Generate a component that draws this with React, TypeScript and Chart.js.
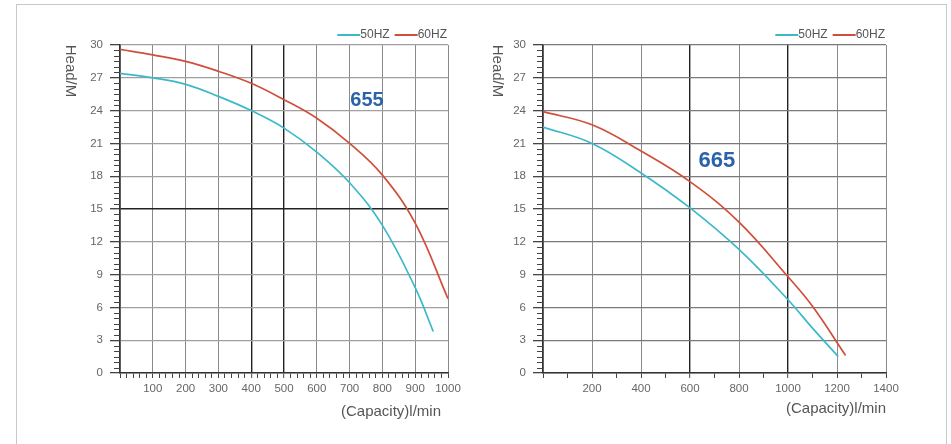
import React, { useEffect, useRef } from "react";
import { Chart, registerables } from "chart.js";

Chart.register(...registerables);

// ---- Data: model 655 ----
const cap50A = [0, 100, 200, 300, 400, 500, 600, 700, 800, 900, 955];
const head50A = [27.4, 27.0, 26.4, 25.3, 24.0, 22.4, 20.2, 17.4, 13.5, 7.8, 3.8];
const cap60A = [0, 100, 200, 300, 400, 500, 600, 700, 800, 900, 1000];
const head60A = [29.6, 29.1, 28.5, 27.6, 26.5, 25.0, 23.3, 21.0, 18.1, 13.7, 6.8];

// ---- Data: model 665 ----
const cap50B = [0, 200, 400, 600, 800, 1000, 1100, 1205];
const head50B = [22.5, 21.0, 18.3, 15.1, 11.3, 6.7, 4.1, 1.5];
const cap60B = [0, 200, 400, 600, 800, 1000, 1100, 1235];
const head60B = [23.9, 22.7, 20.3, 17.5, 13.8, 8.8, 6.1, 1.6];

const seriesNames = ["50HZ", "60HZ"];
const yTicks = [0, 3, 6, 9, 12, 15, 18, 21, 24, 27, 30];
const modelNames = ["655", "665"];

const CYAN = "#3cb9c9";
const RED = "#cf4f3c";
const FONT = "'Liberation Sans', Arial, sans-serif";

const toPts = (xs: number[], ys: number[]) => xs.map((x, i) => ({ x, y: ys[i] }));

const decorPlugin = {
  id: "decor",
  afterDraw(chart: any, _args: any, opts: any) {
    const { ctx, chartArea } = chart;
    const { left, right, top } = chartArea;
    const y = chart.scales.y;
    const x = chart.scales.x;
    ctx.save();
    // minor y ticks
    ctx.strokeStyle = "#444";
    ctx.lineWidth = 1;
    for (let v = 0; v <= yTicks[yTicks.length - 1]; v += 0.5) {
      if (v % 3 === 0) continue;
      const py = Math.round(y.getPixelForValue(v)) + 0.5;
      ctx.beginPath();
      ctx.moveTo(left - 6, py);
      ctx.lineTo(left, py);
      ctx.stroke();
    }
    // legend
    ctx.font = `12px ${FONT}`;
    ctx.textBaseline = "middle";
    ctx.textAlign = "left";
    const ly = top - 10;
    let cx = right - 1;
    const items = [
      { name: seriesNames[1], color: RED },
      { name: seriesNames[0], color: CYAN },
    ];
    items.forEach((it, i) => {
      const w = ctx.measureText(it.name).width;
      cx -= w;
      ctx.fillStyle = "#555";
      ctx.fillText(it.name, cx, ly);
      ctx.strokeStyle = it.color;
      ctx.lineWidth = 2;
      ctx.beginPath();
      ctx.moveTo(cx - 23, ly);
      ctx.lineTo(cx, ly);
      ctx.stroke();
      cx -= 23 + (i === 0 ? 5 : 0);
    });
    // y title rotated clockwise
    ctx.fillStyle = "#555";
    ctx.font = `15px ${FONT}`;
    ctx.save();
    ctx.translate(left - opts.yTitleDx, top + 26);
    ctx.rotate(Math.PI / 2);
    ctx.textAlign = "center";
    ctx.textBaseline = "middle";
    ctx.fillText("Head/M", 0, 0);
    ctx.restore();
    // x title
    ctx.textAlign = "right";
    ctx.textBaseline = "middle";
    ctx.fillText("(Capacity)l/min", right - opts.xTitleDx, opts.xTitleY);
    // model label
    ctx.fillStyle = "#2a63a8";
    ctx.font = `bold ${opts.modelSize}px ${FONT}`;
    ctx.textAlign = "center";
    ctx.fillText(opts.model, x.getPixelForValue(opts.modelX), y.getPixelForValue(opts.modelY));
    ctx.restore();
  },
};

function makeConfig(p: any) {
  return {
    type: "line",
    data: {
      datasets: [
        {
          label: seriesNames[0],
          data: toPts(p.c50, p.h50),
          borderColor: CYAN,
          backgroundColor: CYAN,
          borderWidth: 1.7,
          pointRadius: 0,
          tension: 0.4,
        },
        {
          label: seriesNames[1],
          data: toPts(p.c60, p.h60),
          borderColor: RED,
          backgroundColor: RED,
          borderWidth: 1.7,
          pointRadius: 0,
          tension: 0.4,
        },
      ],
    },
    options: {
      responsive: false,
      animation: false,
      layout: { padding: { top: 45, right: p.padRight, left: 0, bottom: 0 } },
      plugins: {
        legend: { display: false },
        tooltip: { enabled: false },
        decor: {
          yTitleDx: p.yTitleDx,
          xTitleDx: p.xTitleDx,
          xTitleY: p.xTitleY,
          model: p.model,
          modelX: p.modelX,
          modelY: p.modelY,
          modelSize: p.modelSize,
        },
      },
      scales: {
        x: {
          type: "linear",
          min: 0,
          max: p.xMax,
          afterFit: (s: any) => {
            s.height = 71;
          },
          ticks: {
            stepSize: p.minorStep,
            autoSkip: false,
            maxRotation: 0,
            padding: 4,
            color: "#666",
            font: { family: FONT, size: 11.5 },
            callback: (v: number) => (v % p.labelStep === 0 && v > 0 ? String(v) : ""),
          },
          grid: {
            tickLength: 5,
            color: (c: any) => {
              const v = c.tick.value;
              if (v % p.gridStep !== 0) return "transparent";
              return p.darkX.includes(v) ? "#222" : "#8a8a8a";
            },
            lineWidth: (c: any) => (p.darkX.includes(c.tick.value) ? 1.4 : 1),
            tickColor: "#444",
            tickWidth: 1,
          },
          border: { color: "#333", width: 1.5 },
        },
        y: {
          type: "linear",
          min: 0,
          max: 30,
          afterFit: (s: any) => {
            s.width = p.yWidth;
          },
          afterBuildTicks: (s: any) => {
            s.ticks = yTicks.map((v) => ({ value: v }));
          },
          ticks: {
            padding: 7,
            color: "#666",
            font: { family: FONT, size: 11.5 },
          },
          grid: {
            tickLength: 10,
            color: (c: any) => (p.darkY.includes(c.tick.value) ? "#222" : p.yGridColor),
            lineWidth: (c: any) => (p.darkY.includes(c.tick.value) ? 1.4 : 1.3),
            tickColor: "#444",
          },
          border: { color: "#333", width: 1.5 },
        },
      },
    },
    plugins: [decorPlugin],
  };
}

function ChartCanvas(props: { cfg: any; left: number; width: number }) {
  const ref = useRef<HTMLCanvasElement | null>(null);
  useEffect(() => {
    if (!ref.current) return;
    const chart = new Chart(ref.current, props.cfg);
    return () => chart.destroy();
  }, []);
  return (
    <canvas
      ref={ref}
      width={props.width}
      height={444}
      style={{ position: "absolute", left: props.left, top: 0, width: props.width, height: 444 }}
    />
  );
}

export default function App() {
  const cfgA = makeConfig({
    c50: cap50A,
    h50: head50A,
    c60: cap60A,
    h60: head60A,
    xMax: 1000,
    minorStep: 20,
    gridStep: 100,
    labelStep: 100,
    darkX: [400, 500],
    darkY: [15],
    yGridColor: "#a0a0a0",
    yWidth: 120,
    padRight: 27,
    yTitleDx: 50,
    xTitleDx: 7,
    xTitleY: 412,
    model: modelNames[0],
    modelX: 753,
    modelY: 24.9,
    modelSize: 20,
  });
  const cfgB = makeConfig({
    c50: cap50B,
    h50: head50B,
    c60: cap60B,
    h60: head60B,
    xMax: 1400,
    minorStep: 100,
    gridStep: 200,
    labelStep: 200,
    darkX: [600, 1000],
    darkY: [],
    yGridColor: "#7a7a7a",
    yWidth: 68,
    padRight: 65,
    yTitleDx: 46,
    xTitleDx: 0,
    xTitleY: 409,
    model: modelNames[1],
    modelX: 710,
    modelY: 19.4,
    modelSize: 22,
  });
  return (
    <div style={{ position: "absolute", left: 0, top: 0, width: 951, height: 444, overflow: "hidden", background: "#fff" }}>
      <div
        style={{
          position: "absolute",
          left: 16,
          top: 4,
          width: 929,
          height: 460,
          border: "1.5px solid #c8c8c8",
        }}
      />
      <ChartCanvas cfg={cfgA} left={0} width={475} />
      <ChartCanvas cfg={cfgB} left={475} width={476} />
    </div>
  );
}
